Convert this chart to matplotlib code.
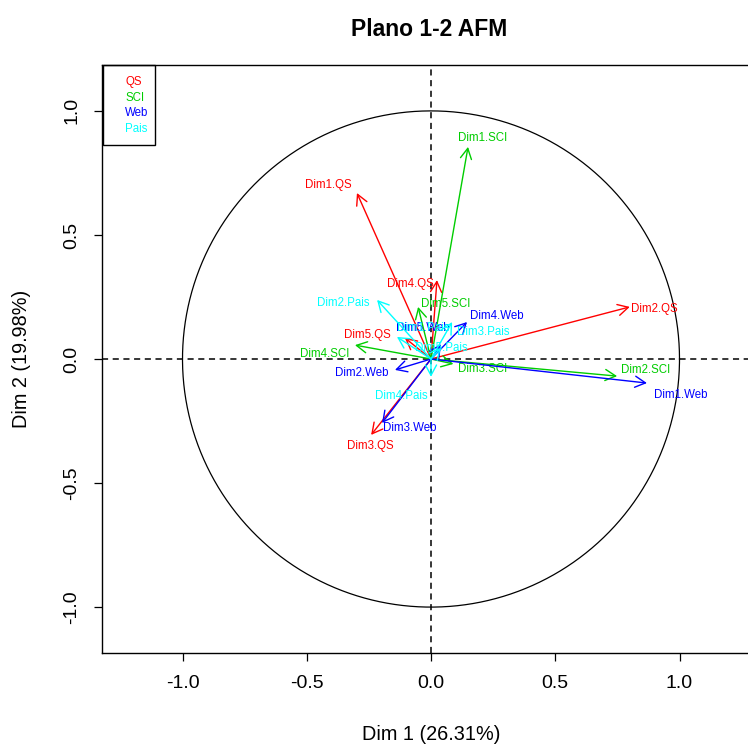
import numpy as np
import matplotlib
matplotlib.use("Agg")
import matplotlib.pyplot as plt

plt.rcParams['font.family'] = ['Liberation Sans', 'DejaVu Sans']

# variable coordinates on dims 1-2
qs_names = ["Dim1.QS", "Dim2.QS", "Dim3.QS", "Dim4.QS", "Dim5.QS"]
qs_x = [-0.298, 0.800, -0.241, 0.024, -0.105]
qs_y = [0.669, 0.210, -0.306, 0.318, 0.085]

sci_names = ["Dim1.SCI", "Dim2.SCI", "Dim3.SCI", "Dim4.SCI", "Dim5.SCI"]
sci_x = [0.149, 0.749, 0.090, -0.306, -0.052]
sci_y = [0.855, -0.069, -0.020, 0.056, 0.210]

web_names = ["Dim1.Web", "Dim2.Web", "Dim3.Web", "Dim4.Web", "Dim5.Web"]
web_x = [0.869, -0.145, -0.197, 0.145, 0.040]
web_y = [-0.097, -0.044, -0.258, 0.149, 0.060]

pais_names = ["Dim1.Pais", "Dim2.Pais", "Dim3.Pais", "Dim4.Pais", "Dim5.Pais"]
pais_x = [-0.137, -0.217, 0.085, 0.000, 0.040]
pais_y = [0.089, 0.238, 0.149, -0.072, 0.045]

groups = ["QS", "SCI", "Web", "Pais"]
colores = ["#FF0000", "#00CD00", "#0000FF", "#00FFFF"]

# label offsets from arrow tip, in pixels (right, down)
offs = {
    "Dim1.QS": (-29, -8), "Dim2.QS": (25, 2), "Dim3.QS": (-1, 11),
    "Dim4.QS": (-27, 4), "Dim5.QS": (-38, -3),
    "Dim1.SCI": (15, -9), "Dim2.SCI": (28, -6), "Dim3.SCI": (29, 5),
    "Dim4.SCI": (-30, 9), "Dim5.SCI": (28, -3),
    "Dim1.Web": (34, 12), "Dim2.Web": (-33, 3), "Dim3.Web": (28, 5),
    "Dim4.Web": (30, -6), "Dim5.Web": (-18, -16),
    "Dim1.Pais": (26, -9), "Dim2.Pais": (-34, 3), "Dim3.Pais": (31, 10),
    "Dim4.Pais": (-30, 19), "Dim5.Pais": (0, 0),
}

fig = plt.figure(figsize=(7.48, 7.47), dpi=100)
W, H = 748, 747
left, right, top, bot = 102, 760, 65, 653
ax = fig.add_axes([left / W, (H - bot) / H, (right - left) / W, (bot - top) / H])
xr = (431 - left) / 248.5
ax.set_xlim(-xr, (right - 431) / 248.5)
ax.set_ylim(-1.185, 1.185)

th = np.linspace(0, 2 * np.pi, 400)
ax.plot(np.cos(th), np.sin(th), color="black", lw=0.9)
ax.axhline(0, color="black", lw=1.1, ls=(0, (4, 3)))
ax.axvline(0, color="black", lw=1.1, ls=(0, (4, 3)))

data = [(qs_names, qs_x, qs_y), (sci_names, sci_x, sci_y),
        (web_names, web_x, web_y), (pais_names, pais_x, pais_y)]
for (nm, xs, ys), col in zip(data, colores):
    for n, x, y in zip(nm, xs, ys):
        ax.annotate("", xy=(x, y), xytext=(0, 0),
                    arrowprops=dict(arrowstyle="->,head_length=0.75,head_width=0.4",
                                    color=col, lw=1.0, shrinkA=0, shrinkB=0,
                                    mutation_scale=10))
        dx, dy = offs[n]
        ax.annotate(n, xy=(x, y), xytext=(dx * 0.72, -dy * 0.72),
                    textcoords="offset points", ha="center", va="center",
                    color=col, fontsize=8.3)

ax.set_xticks([-1.0, -0.5, 0.0, 0.5, 1.0])
ax.set_yticks([-1.0, -0.5, 0.0, 0.5, 1.0])
ax.set_xticklabels(["-1.0", "-0.5", "0.0", "0.5", "1.0"])
ax.set_yticklabels(["-1.0", "-0.5", "0.0", "0.5", "1.0"], rotation=90, va="center")
ax.tick_params(length=5.5, width=0.9, labelsize=14, pad=10)
for s in ax.spines.values():
    s.set_linewidth(1.0)

fig.text(22 / W, 1 - 359 / H, "Dim 2 (19.98%)", rotation=90, ha="center",
         va="center", fontsize=14.3)
fig.text(431 / W, 1 - 735 / H, "Dim 1 (26.31%)", ha="center", va="center",
         fontsize=14.3)
fig.text(429 / W, 1 - 29 / H, "Plano 1-2 AFM", ha="center", va="center",
         fontsize=16.5, fontweight="bold")

# legend box
lb = plt.Rectangle((103 / W, 1 - 145 / H), 52 / W, 80 / H, transform=fig.transFigure,
                   fill=False, lw=1.0, color="black")
fig.add_artist(lb)
for i, (g, c) in enumerate(zip(groups, colores)):
    fig.text(125 / W, 1 - (82 + i * 15.7) / H, g, color=c, fontsize=8.3,
             ha="left", va="center")

fig.savefig("out.png", dpi=100)
